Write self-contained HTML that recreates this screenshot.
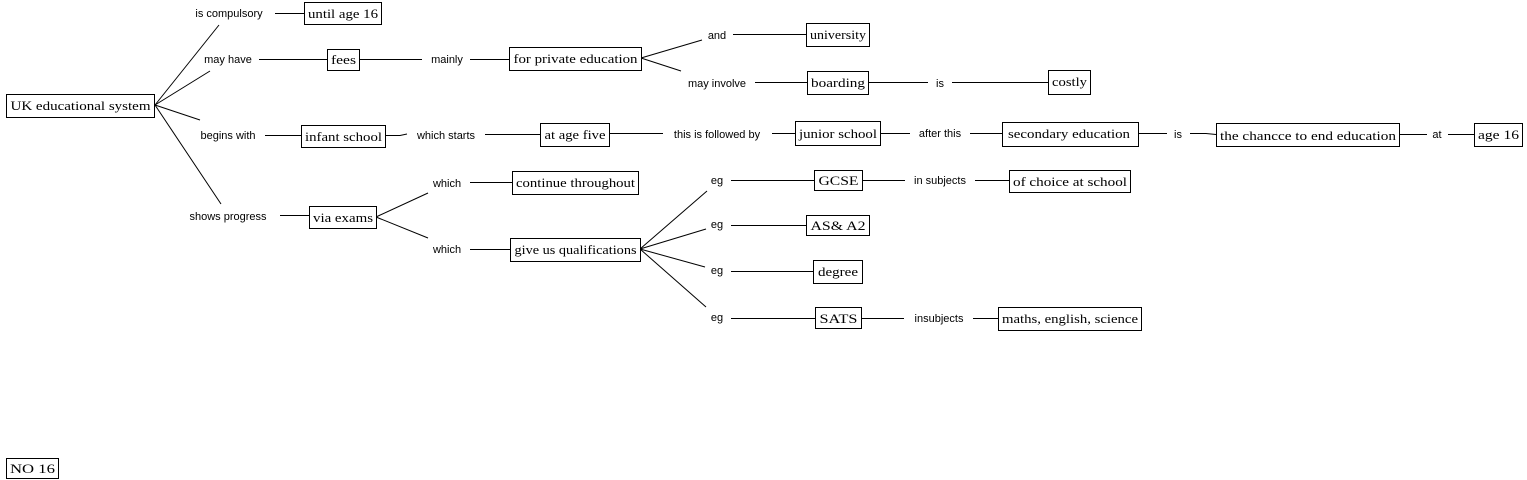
<!DOCTYPE html>
<html><head><meta charset="utf-8"><style>
html,body{margin:0;padding:0;background:#fff;width:1527px;height:480px;overflow:hidden}
svg{display:block}
.b{fill:#fff;stroke:#000;stroke-width:1}
.t{font-family:"Liberation Serif",serif;font-size:13px;fill:#000}
.l{font-family:"Liberation Sans",sans-serif;font-size:11px;fill:#000}
line,polyline{stroke:#000;stroke-width:1;fill:none}
</style></head><body>
<svg width="1527" height="480" viewBox="0 0 1527 480" xmlns="http://www.w3.org/2000/svg">
<g>
<line x1="155" y1="105" x2="219" y2="25"/>
<line x1="155" y1="105" x2="210" y2="71"/>
<line x1="155" y1="105" x2="200" y2="120"/>
<line x1="155" y1="105" x2="221" y2="204"/>
<line x1="275" y1="13.5" x2="304" y2="13.5"/>
<line x1="259" y1="59.5" x2="327" y2="59.5"/>
<line x1="265" y1="135.5" x2="301" y2="135.5"/>
<line x1="280" y1="215.5" x2="309" y2="215.5"/>
<line x1="360" y1="59.5" x2="422" y2="59.5"/>
<line x1="470" y1="59.5" x2="509" y2="59.5"/>
<polyline points="385,135.5 400,135.5 407,134"/>
<line x1="485" y1="134.5" x2="540" y2="134.5"/>
<line x1="376" y1="217" x2="428" y2="193"/>
<line x1="376" y1="217" x2="428" y2="238"/>
<line x1="470" y1="182.5" x2="512" y2="182.5"/>
<line x1="470" y1="249.5" x2="510" y2="249.5"/>
<line x1="641" y1="58" x2="702" y2="40"/>
<line x1="641" y1="58" x2="681" y2="71"/>
<line x1="733" y1="34.5" x2="806" y2="34.5"/>
<line x1="755" y1="82.5" x2="807" y2="82.5"/>
<line x1="868" y1="82.5" x2="928" y2="82.5"/>
<line x1="952" y1="82.5" x2="1048" y2="82.5"/>
<line x1="609" y1="133.5" x2="663" y2="133.5"/>
<line x1="772" y1="133.5" x2="795" y2="133.5"/>
<line x1="880" y1="133.5" x2="910" y2="133.5"/>
<line x1="970" y1="133.5" x2="1002" y2="133.5"/>
<line x1="1138" y1="133.5" x2="1167" y2="133.5"/>
<polyline points="1190,133.5 1206,133.5 1216,134.5"/>
<line x1="1399" y1="134.5" x2="1427" y2="134.5"/>
<line x1="1448" y1="134.5" x2="1474" y2="134.5"/>
<line x1="640" y1="249" x2="707" y2="191"/>
<line x1="640" y1="249" x2="706" y2="229"/>
<line x1="640" y1="249" x2="705" y2="267"/>
<line x1="640" y1="249" x2="706" y2="307"/>
<line x1="731" y1="180.5" x2="814" y2="180.5"/>
<line x1="731" y1="225.5" x2="806" y2="225.5"/>
<line x1="731" y1="271.5" x2="813" y2="271.5"/>
<line x1="731" y1="318.5" x2="815" y2="318.5"/>
<line x1="862" y1="180.5" x2="905" y2="180.5"/>
<line x1="975" y1="180.5" x2="1009" y2="180.5"/>
<line x1="861" y1="318.5" x2="904" y2="318.5"/>
<line x1="973" y1="318.5" x2="998" y2="318.5"/>
</g>
<g>
<rect class="b" x="6.5" y="94.5" width="148" height="23"/><text class="t" x="80.5" y="110" text-anchor="middle" textLength="140" lengthAdjust="spacingAndGlyphs">UK educational system</text>
<rect class="b" x="304.5" y="2.5" width="77" height="22"/><text class="t" x="343" y="18" text-anchor="middle" textLength="70" lengthAdjust="spacingAndGlyphs">until age 16</text>
<rect class="b" x="327.5" y="49.5" width="32" height="21"/><text class="t" x="343.5" y="64" text-anchor="middle" textLength="25" lengthAdjust="spacingAndGlyphs">fees</text>
<rect class="b" x="509.5" y="47.5" width="132" height="23"/><text class="t" x="575.5" y="63" text-anchor="middle" textLength="124" lengthAdjust="spacingAndGlyphs">for private education</text>
<rect class="b" x="806.5" y="23.5" width="63" height="23"/><text class="t" x="838" y="39" text-anchor="middle" textLength="56" lengthAdjust="spacingAndGlyphs">university</text>
<rect class="b" x="807.5" y="71.5" width="61" height="23"/><text class="t" x="838" y="87" text-anchor="middle" textLength="54" lengthAdjust="spacingAndGlyphs">boarding</text>
<rect class="b" x="1048.5" y="70.5" width="42" height="24"/><text class="t" x="1069.5" y="86" text-anchor="middle" textLength="35" lengthAdjust="spacingAndGlyphs">costly</text>
<rect class="b" x="301.5" y="125.5" width="84" height="22"/><text class="t" x="343.5" y="141" text-anchor="middle" textLength="77" lengthAdjust="spacingAndGlyphs">infant school</text>
<rect class="b" x="540.5" y="123.5" width="69" height="23"/><text class="t" x="575" y="139" text-anchor="middle" textLength="61" lengthAdjust="spacingAndGlyphs">at age five</text>
<rect class="b" x="795.5" y="121.5" width="85" height="24"/><text class="t" x="838" y="138" text-anchor="middle" textLength="78" lengthAdjust="spacingAndGlyphs">junior school</text>
<rect class="b" x="1002.5" y="122.5" width="136" height="24"/><text class="t" x="1069" y="138" text-anchor="middle" textLength="122" lengthAdjust="spacingAndGlyphs">secondary education</text>
<rect class="b" x="1216.5" y="123.5" width="183" height="23"/><text class="t" x="1308" y="140" text-anchor="middle" textLength="176" lengthAdjust="spacingAndGlyphs">the chancce to end education</text>
<rect class="b" x="1474.5" y="123.5" width="48" height="23"/><text class="t" x="1498.5" y="139" text-anchor="middle" textLength="41" lengthAdjust="spacingAndGlyphs">age 16</text>
<rect class="b" x="309.5" y="206.5" width="67" height="22"/><text class="t" x="343" y="222" text-anchor="middle" textLength="60" lengthAdjust="spacingAndGlyphs">via exams</text>
<rect class="b" x="512.5" y="171.5" width="126" height="23"/><text class="t" x="575.5" y="187" text-anchor="middle" textLength="119" lengthAdjust="spacingAndGlyphs">continue throughout</text>
<rect class="b" x="510.5" y="238.5" width="130" height="23"/><text class="t" x="575.5" y="254" text-anchor="middle" textLength="122" lengthAdjust="spacingAndGlyphs">give us qualifications</text>
<rect class="b" x="814.5" y="170.5" width="48" height="20"/><text class="t" x="838.5" y="185" text-anchor="middle" textLength="40" lengthAdjust="spacingAndGlyphs">GCSE</text>
<rect class="b" x="806.5" y="215.5" width="63" height="20"/><text class="t" x="838" y="230" text-anchor="middle" textLength="55" lengthAdjust="spacingAndGlyphs">AS&amp; A2</text>
<rect class="b" x="813.5" y="260.5" width="49" height="23"/><text class="t" x="838" y="276" text-anchor="middle" textLength="40" lengthAdjust="spacingAndGlyphs">degree</text>
<rect class="b" x="815.5" y="307.5" width="46" height="21"/><text class="t" x="838.5" y="323" text-anchor="middle" textLength="38" lengthAdjust="spacingAndGlyphs">SATS</text>
<rect class="b" x="1009.5" y="170.5" width="121" height="22"/><text class="t" x="1070" y="186" text-anchor="middle" textLength="114" lengthAdjust="spacingAndGlyphs">of choice at school</text>
<rect class="b" x="998.5" y="307.5" width="143" height="23"/><text class="t" x="1070" y="323" text-anchor="middle" textLength="136" lengthAdjust="spacingAndGlyphs">maths, english, science</text>
<rect class="b" x="6.5" y="458.5" width="52" height="20"/><text class="t" x="32.5" y="473" text-anchor="middle" textLength="45" lengthAdjust="spacingAndGlyphs">NO 16</text>
</g>
<g class="l" text-anchor="middle">
<text class="l" x="229" y="17">is compulsory</text>
<text class="l" x="228" y="63">may have</text>
<text class="l" x="228" y="139">begins with</text>
<text class="l" x="228" y="220">shows progress</text>
<text class="l" x="447" y="63">mainly</text>
<text class="l" x="446" y="139">which starts</text>
<text class="l" x="447" y="187">which</text>
<text class="l" x="447" y="253">which</text>
<text class="l" x="717" y="39">and</text>
<text class="l" x="717" y="87">may involve</text>
<text class="l" x="940" y="87">is</text>
<text class="l" x="717" y="138">this is followed by</text>
<text class="l" x="940" y="137">after this</text>
<text class="l" x="1178" y="138">is</text>
<text class="l" x="1437" y="138">at</text>
<text class="l" x="717" y="184">eg</text>
<text class="l" x="717" y="228">eg</text>
<text class="l" x="717" y="274">eg</text>
<text class="l" x="717" y="321">eg</text>
<text class="l" x="940" y="184">in subjects</text>
<text class="l" x="939" y="322">insubjects</text>
</g>
</svg>
</body></html>
